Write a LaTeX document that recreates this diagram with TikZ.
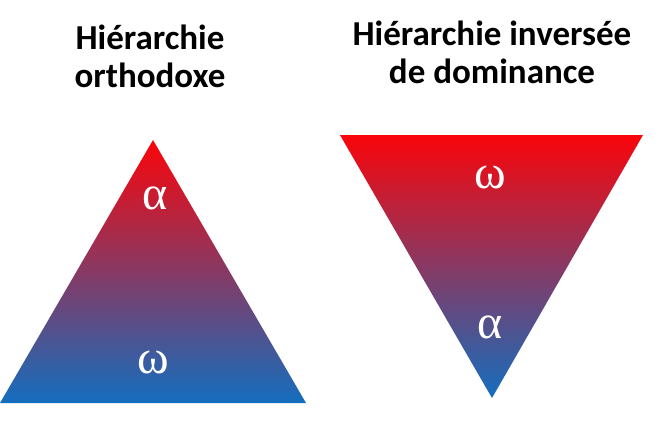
\documentclass[tikz,border=0pt]{standalone}
\usepackage{fontspec}
\setmainfont{Carlito}
\newfontfamily\grk{Liberation Serif}
\definecolor{topred}{RGB}{250,5,10}
\definecolor{botblue}{RGB}{20,110,190}
\begin{document}
\begin{tikzpicture}[x=1pt,y=-1pt,
  title/.style={font=\fontsize{35}{38}\selectfont\bfseries,align=center,text=black},
  greek/.style={font=\grk\fontsize{48}{48}\selectfont,text=white},
  tri/.style={top color=topred,bottom color=botblue}]
\useasboundingbox (0,0) rectangle (661,421);
\shade[tri] (153,140) -- (306,403) -- (0,403) -- cycle;
\shade[tri] (340,135) -- (643,135) -- (492,398) -- cycle;
\node[title] (t1) at (150,56) {Hiérarchie\\orthodoxe};
\node[title] (t2) at (492,52) {Hiérarchie inversée\\de dominance};
\node[greek] (a1) at (155,198) {α};
\node[greek] (w1) at (153,362) {ω};
\node[greek] (w2) at (490,177) {ω};
\node[greek] (a2) at (490,327) {α};
\end{tikzpicture}
\end{document}
